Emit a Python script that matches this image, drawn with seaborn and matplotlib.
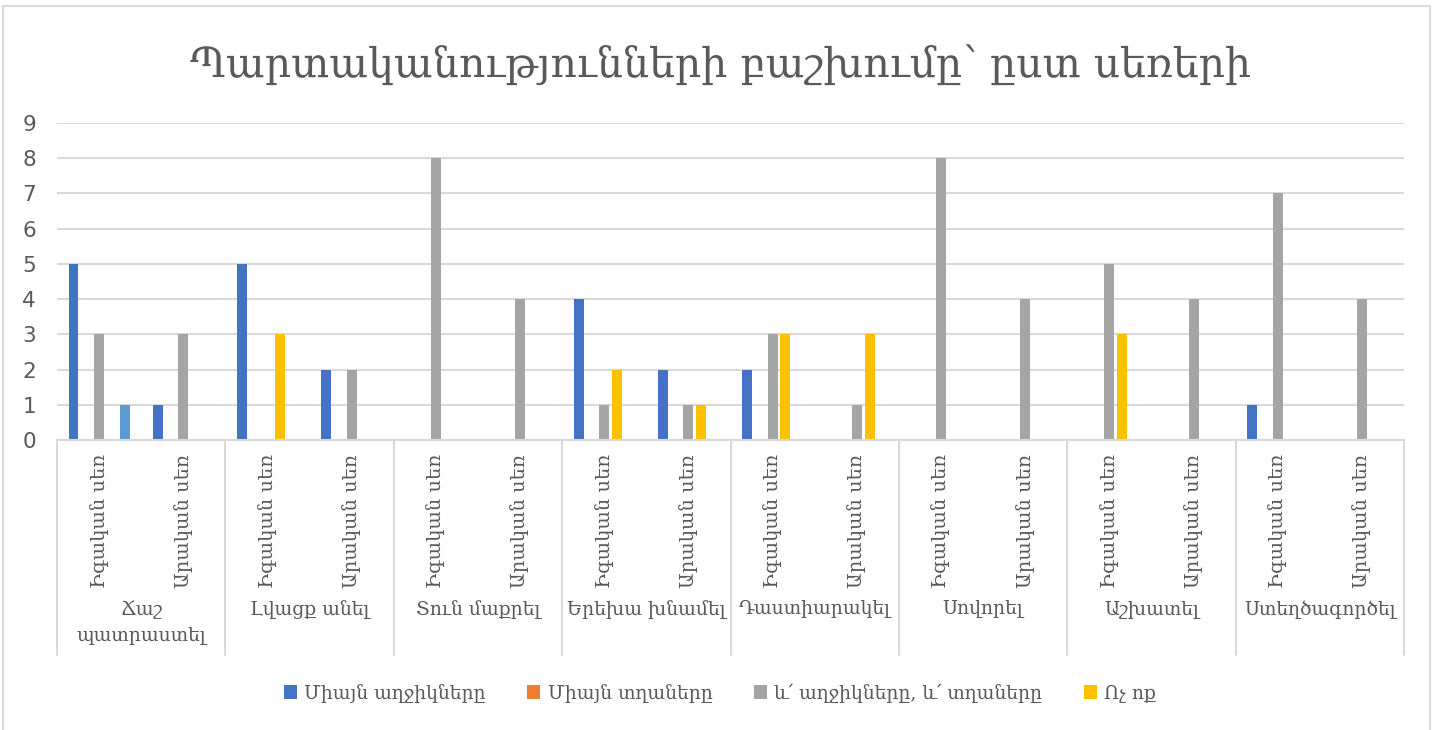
import matplotlib
matplotlib.use("Agg")
import matplotlib.pyplot as plt
import matplotlib.transforms as mtransforms
from matplotlib.patches import Rectangle
import seaborn as sns
import pandas as pd

# ---- data ----
title = "Պարտականությունների բաշխումը՝ ըստ սեռերի"
groups = ["Ճաշ\nպատրաստել", "Լվացք անել", "Տուն մաքրել", "Երեխա խնամել",
          "Դաստիարակել", "Սովորել", "Աշխատել", "Ստեղծագործել"]
subcats = ["Իգական սեռ", "Արական սեռ"]
series_names = ["Միայն աղջիկները", "Միայն տղաները",
                "և՛ աղջիկները, և՛ տղաները", "Ոչ ոք", "Այլ"]
only_girls = [5, 1, 5, 2, 0, 0, 4, 2, 2, 0, 0, 0, 0, 0, 1, 0]
only_boys = [0, 0, 0, 0, 0, 0, 0, 0, 0, 0, 0, 0, 0, 0, 0, 0]
both = [3, 3, 0, 2, 8, 4, 1, 1, 3, 1, 8, 4, 5, 4, 7, 4]
nobody = [0, 0, 3, 0, 0, 0, 2, 1, 3, 3, 0, 0, 3, 0, 0, 0]
other = [1, 0, 0, 0, 0, 0, 0, 0, 0, 0, 0, 0, 0, 0, 0, 0]
colors = ["#4472C4", "#ED7D31", "#A5A5A5", "#FFC000", "#5B9BD5"]

values = [only_girls, only_boys, both, nobody, other]
pos_order = [f"{g}|{s}" for g in groups for s in subcats]
rows = []
for name, vals in zip(series_names, values):
    for p, v in zip(pos_order, vals):
        rows.append({"pos": p, "series": name, "value": v})
df = pd.DataFrame(rows)

# ---- figure ----
sns.set_style("white")
arm = ["DejaVu Serif", "DejaVu Sans"]
txt = "#595959"
W, H = 1434, 730
fig = plt.figure(figsize=(W / 100, H / 100), dpi=100)
ax = fig.add_axes([57 / W, 290 / H, (1404 - 57) / W, 317 / H])

sns.barplot(data=df, x="pos", y="value", hue="series", order=pos_order,
            hue_order=series_names, palette=colors, saturation=1,
            width=0.76, gap=0.22, linewidth=0, errorbar=None, ax=ax)

ax.set_xlim(-0.5, 15.5)
ax.set_ylim(0, 9)
ax.set_yticks(range(0, 10))
ax.set_yticklabels([str(i) for i in range(10)], fontsize=15.5, color=txt,
                   family="DejaVu Sans")
ax.tick_params(axis="y", length=0, pad=15)
ax.set_xticks([])
ax.set_xlabel("")
ax.set_ylabel("")
ax.grid(axis="y", color="#D9D9D9", linewidth=1.5)
ax.set_axisbelow(True)
for s in ["left", "right", "top"]:
    ax.spines[s].set_visible(False)
ax.spines["bottom"].set_color("#D9D9D9")
ax.spines["bottom"].set_linewidth(1.5)

# two-level category axis
tr = mtransforms.blended_transform_factory(ax.transData, fig.transFigure)
for k in range(len(groups) + 1):
    x = -0.5 + 2 * k
    ax.plot([x, x], [1 - 440 / H, 1 - 655 / H], transform=tr, color="#D9D9D9",
            linewidth=1.5, clip_on=False)
for i, p in enumerate(pos_order):
    sub = p.split("|")[1]
    ax.text(i, 1 - 454 / H, sub, transform=tr, rotation=90, ha="center",
            va="top", fontsize=14, color=txt, family=arm)
for g, name in enumerate(groups):
    ax.text(2 * g + 0.5, 1 - 600 / H, name, transform=tr, ha="center",
            va="top", fontsize=13.5, color=txt, family=arm, linespacing=1.5)

# legend (first four series)
handles, labels = ax.get_legend_handles_labels()
if ax.legend_ is not None:
    ax.legend_.remove()
fig.legend(handles[:4], labels[:4], loc="center",
           bbox_to_anchor=(720 / W, 1 - 693 / H), ncol=4, frameon=False,
           prop={"family": arm, "size": 13.5}, labelcolor=txt,
           handlelength=0.7, handleheight=0.7, handletextpad=0.4,
           columnspacing=2.2)

fig.text(720 / W, 1 - 65 / H, title, ha="center", va="center", fontsize=29.5,
         color=txt, family=arm)

fig.patches.append(Rectangle((3 / W, -0.01), (1430 - 3) / W, 1.01 - 6 / H,
                             transform=fig.transFigure, fill=False,
                             edgecolor="#D9D9D9", linewidth=1.5))

fig.savefig("out.png", dpi=100, facecolor="white")
